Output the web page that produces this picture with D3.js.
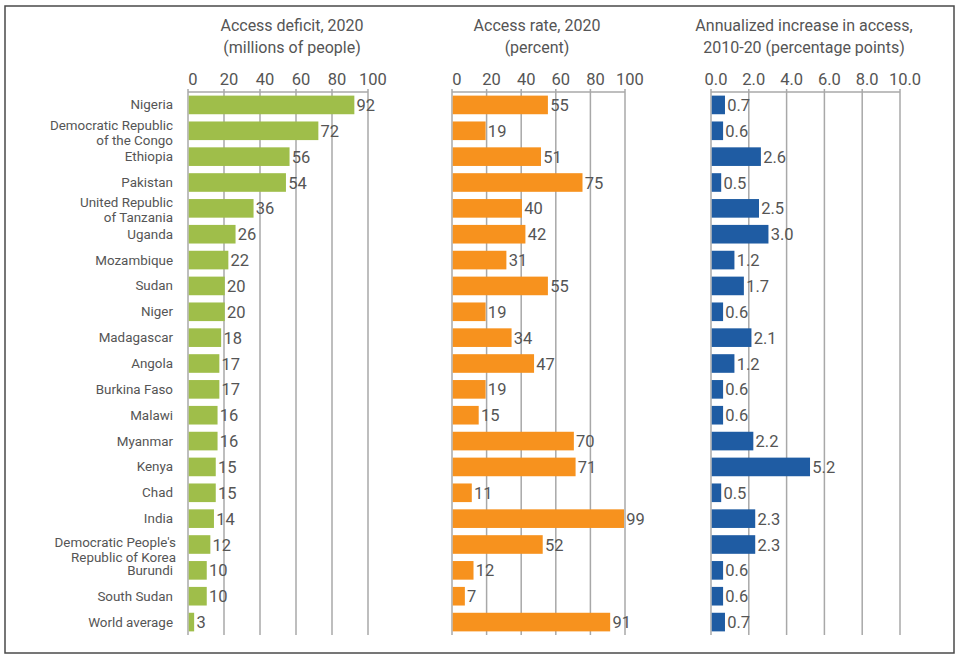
<!DOCTYPE html>
<html>
<head>
<meta charset="utf-8">
<script src="https://cdn.jsdelivr.net/npm/d3@7/dist/d3.min.js"></script>
<style>
  html, body { margin: 0; padding: 0; background: #fff; }
  svg text { font-family: Roboto, "Noto Sans", sans-serif; fill: #555555; }
</style>
</head>
<body>
<svg id="chart" width="960" height="661"></svg>
<script>
const categories = [
  "Nigeria",
  "Democratic Republic\nof the Congo",
  "Ethiopia",
  "Pakistan",
  "United Republic\nof Tanzania",
  "Uganda",
  "Mozambique",
  "Sudan",
  "Niger",
  "Madagascar",
  "Angola",
  "Burkina Faso",
  "Malawi",
  "Myanmar",
  "Kenya",
  "Chad",
  "India",
  "Democratic People's\nRepublic of Korea",
  "Burundi",
  "South Sudan",
  "World average"
];
const accessDeficit = [92, 72, 56, 54, 36, 26, 22, 20, 20, 18, 17, 17, 16, 16, 15, 15, 14, 12, 10, 10, 3];
const accessRate = [55, 19, 51, 75, 40, 42, 31, 55, 19, 34, 47, 19, 15, 70, 71, 11, 99, 52, 12, 7, 91];
const annualIncrease = [0.7, 0.6, 2.6, 0.5, 2.5, 3.0, 1.2, 1.7, 0.6, 2.1, 1.2, 0.6, 0.6, 2.2, 5.2, 0.5, 2.3, 2.3, 0.6, 0.6, 0.7];

const ticksDeficit = [0, 20, 40, 60, 80, 100];
const ticksRate = [0, 20, 40, 60, 80, 100];
const ticksIncrease = [0, 2, 4, 6, 8, 10];

const titles = [
  ["Access deficit, 2020", "(millions of people)"],
  ["Access rate, 2020", "(percent)"],
  ["Annualized increase in access,", "2010-20 (percentage points)"]
];

const svg = d3.select("#chart");

// outer frame
svg.append("rect")
  .attr("x", 5).attr("y", 6).attr("width", 949).attr("height", 647)
  .attr("fill", "none").attr("stroke", "#4a4a4a").attr("stroke-width", 1.5);

const plotTop = 92, plotBottom = 635;
const y = d3.scaleBand().domain(d3.range(categories.length))
  .range([plotTop, plotBottom]).paddingInner(0.28).paddingOuter(0.14);

const panels = [
  { values: accessDeficit, ticks: ticksDeficit, range: [188, 368], color: "#9fbe4a", fmt: d3.format("d"), tfmt: d3.format("d"), title: titles[0], tx: 292 },
  { values: accessRate, ticks: ticksRate, range: [452, 625], color: "#f7921e", fmt: d3.format("d"), tfmt: d3.format("d"), title: titles[1], tx: 537 },
  { values: annualIncrease, ticks: ticksIncrease, range: [711, 900], color: "#1f5ca3", fmt: d3.format(".1f"), tfmt: d3.format(".1f"), title: titles[2], tx: 804 }
];

panels.forEach(p => {
  const x = d3.scaleLinear().domain([p.ticks[0], p.ticks[p.ticks.length - 1]]).range(p.range);
  const g = svg.append("g");

  g.selectAll("text.title").data(p.title).join("text")
    .attr("class", "title")
    .attr("x", p.tx).attr("y", (d, i) => 31 + i * 22)
    .attr("text-anchor", "middle")
    .style("font-size", "16px")
    .text(d => d);

  g.selectAll("text.tick").data(p.ticks).join("text")
    .attr("class", "tick")
    .attr("x", d => x(d) + 5).attr("y", 85)
    .attr("text-anchor", "middle")
    .style("font-size", "16.5px")
    .text(d => p.tfmt(d));

  g.selectAll("line.grid").data(p.ticks).join("line")
    .attr("class", "grid")
    .attr("x1", d => x(d)).attr("x2", d => x(d))
    .attr("y1", plotTop - 3).attr("y2", plotBottom)
    .attr("stroke", "#a8a8a8").attr("stroke-width", 1.5);

  g.append("line")
    .attr("x1", x.range()[0]).attr("x2", x.range()[1])
    .attr("y1", plotTop).attr("y2", plotTop)
    .attr("stroke", "#a8a8a8").attr("stroke-width", 1.5);

  g.selectAll("rect.bar").data(p.values).join("rect")
    .attr("class", "bar")
    .attr("x", x(0) + 0.75)
    .attr("y", (d, i) => y(i))
    .attr("width", d => x(d) - x(0))
    .attr("height", y.bandwidth())
    .attr("fill", p.color);

  g.selectAll("text.val").data(p.values).join("text")
    .attr("class", "val")
    .attr("x", d => x(d) + 3)
    .attr("y", (d, i) => y(i) + y.bandwidth() / 2 + 6)
    .style("font-size", "16.5px")
    .text(d => p.fmt(d));
});

const lab = svg.append("g");
categories.forEach((c, i) => {
  const lines = c.split("\n");
  const cy = y(i) + y.bandwidth() / 2;
  const t = lab.append("text")
    .attr("text-anchor", "end")
    .style("font-size", "13.4px");
  if (lines.length === 1) {
    t.append("tspan").attr("x", 173).attr("y", cy + 4.5).text(lines[0]);
  } else {
    const shift = (i === 17) ? 2 : -1;
    const xr = (i === 17) ? 176 : 173;
    lines.forEach((l, k) => {
      t.append("tspan").attr("x", xr).attr("y", cy + shift + k * 15).text(l);
    });
  }
});
</script>
</body>
</html>
